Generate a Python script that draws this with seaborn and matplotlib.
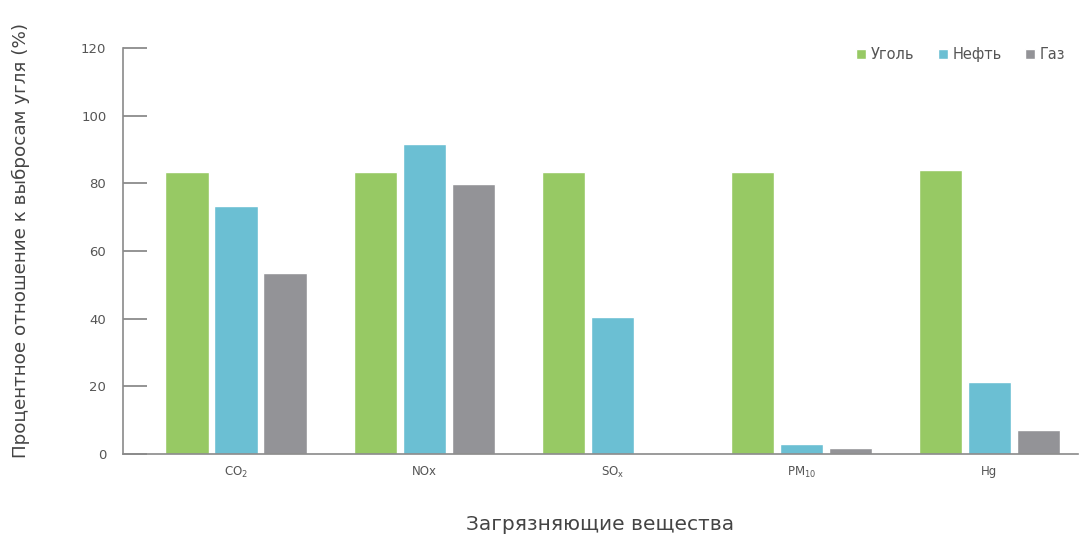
import matplotlib
matplotlib.use("Agg")
import matplotlib.pyplot as plt
import seaborn as sns
import pandas as pd

pollutants = ["CO$_2$", "NOx", "SO$_x$", "PM$_{10}$", "Hg"]
fuels = ["Уголь", "Нефть", "Газ"]
coal = [83.4, 83.4, 83.4, 83.4, 83.9]
oil = [73.2, 91.6, 40.6, 3.1, 21.4]
gas = [53.5, 79.7, 0.0, 1.7, 7.1]
yticks = [0, 20, 40, 60, 80, 100, 120]

colors = ["#97c964", "#6bbfd3", "#939397"]

rows = []
for f, vals in zip(fuels, [coal, oil, gas]):
    for p, v in zip(pollutants, vals):
        rows.append({"pollutant": p, "fuel": f, "value": v})
df = pd.DataFrame(rows)

sns.set_style("white")
plt.rcParams["font.family"] = ["DejaVu Sans"]
plt.rcParams["mathtext.default"] = "regular"

fig = plt.figure(figsize=(10.82, 5.42), dpi=100)
ax = fig.add_axes([123 / 1082, 1 - 454 / 542, (1078 - 123) / 1082, (454 - 48) / 542])

sns.barplot(data=df, x="pollutant", y="value", hue="fuel", order=pollutants,
            hue_order=fuels, palette=colors, width=0.78, gap=0.12,
            saturation=1, ax=ax, legend=True)

ax.set_ylim(0, 120)
ax.set_xlim(-0.6, 4.47)
ax.set_yticks(yticks)
ax.set_yticklabels([str(t) for t in yticks], color="#555555", fontsize=9.5)
ax.tick_params(axis="y", left=True, direction="in", length=17, width=1.1,
               color="#777777", pad=12)
ax.tick_params(axis="x", bottom=False, length=0, pad=8, labelsize=8.5, labelcolor="#555555")

for s in ["top", "right"]:
    ax.spines[s].set_visible(False)
for s in ["left", "bottom"]:
    ax.spines[s].set_color("#8a8a8a")
    ax.spines[s].set_linewidth(1.2)

ax.set_xlabel("Загрязняющие вещества", fontsize=14.5, color="#444444")
ax.xaxis.set_label_coords(0.5, -0.15)
ax.set_ylabel("Процентное отношение к выбросам угля (%)", fontsize=13.2,
              color="#444444")
ax.yaxis.set_label_coords(-0.097, 0.527)

leg = ax.legend(loc="upper right", bbox_to_anchor=(1.0, 1.035), ncol=3, frameon=False,
                fontsize=10.5, handlelength=0.7, handleheight=0.7, handletextpad=0.3,
                columnspacing=1.6, labelcolor="#555555")

fig.savefig("out.png", dpi=100, facecolor="white")
